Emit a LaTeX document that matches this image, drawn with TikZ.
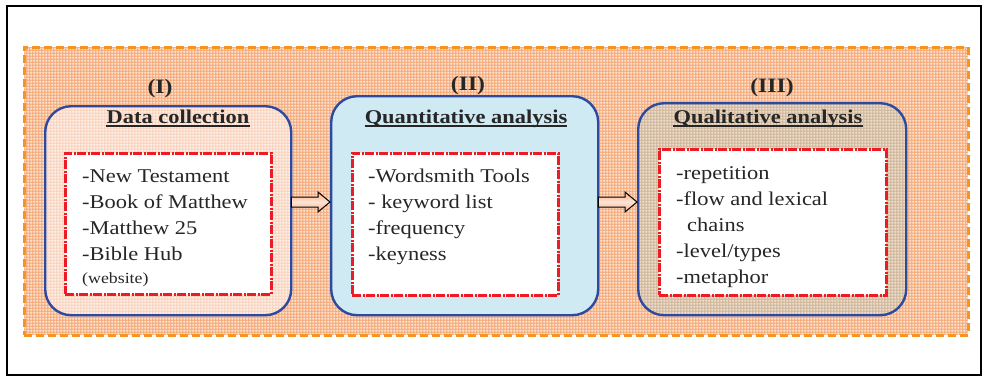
\documentclass[tikz,border=0pt]{standalone}
\usepackage{fontspec}
\setmainfont{Liberation Serif}[FakeStretch=1.15]
\usetikzlibrary{calc,patterns}
\definecolor{myblue}{HTML}{2E4A9E}
\definecolor{myred}{HTML}{ED1C24}
\definecolor{myorange}{HTML}{F7941D}
\definecolor{bgbase}{HTML}{F6AC7C}
\definecolor{pinkbase}{HTML}{FAD5C0}
\definecolor{bluefill}{HTML}{CFEAF3}
\definecolor{tanbase}{HTML}{D3B99C}
\definecolor{tangrid}{HTML}{F8F1E9}
\definecolor{textgray}{HTML}{262626}
\definecolor{arrowdark}{HTML}{F6B08A}
\definecolor{arrowlight}{HTML}{FDE3D3}
\pgfdeclarepatternformonly{finegrid}{\pgfqpoint{0pt}{0pt}}{\pgfqpoint{3pt}{3pt}}{\pgfqpoint{3pt}{3pt}}{%
 \pgfsetlinewidth{0.8pt}%
 \pgfpathmoveto{\pgfqpoint{0pt}{1.5pt}}\pgfpathlineto{\pgfqpoint{3pt}{1.5pt}}%
 \pgfpathmoveto{\pgfqpoint{1.5pt}{0pt}}\pgfpathlineto{\pgfqpoint{1.5pt}{3pt}}%
 \pgfusepath{stroke}}
\tikzset{
 phasebox/.style={draw=myblue, line width=2.4pt, rounded corners=26pt, anchor=north west, inner sep=0pt},
 listbox/.style={draw=myred, line width=2.8pt, dash pattern=on 9pt off 1.5pt on 2pt off 1.5pt, fill=white, anchor=north west, inner sep=0pt},
 item/.style={anchor=base west, inner sep=0pt, text=textgray, font=\fontsize{19.5}{26}\selectfont},
 smallitem/.style={anchor=base west, inner sep=0pt, text=textgray, font=\fontsize{15.5}{20}\selectfont},
 headtext/.style={anchor=base, inner sep=0pt, text=textgray, font=\bfseries\fontsize{19.5}{24}\selectfont},
 numtext/.style={anchor=base, inner sep=0pt, text=textgray, font=\bfseries\fontsize{20.5}{24}\selectfont},
 uline/.style={line width=1.3pt, textgray},
 blockarrow/.style={draw=black, line width=1pt, line join=miter, top color=arrowdark, bottom color=arrowdark, middle color=arrowlight}
}
\begin{document}
\begin{tikzpicture}[x=1pt,y=-1pt]
\useasboundingbox (0,0) rectangle (982,376);
% outer frame
\node[draw=black, line width=1.6pt, anchor=north west, inner sep=0pt, minimum width=974pt, minimum height=369pt] (frame) at (6,5) {};
% orange background
\node[draw=myorange, line width=2.5pt, dash pattern=on 8pt off 4pt, anchor=north west, inner sep=0pt,
      minimum width=944pt, minimum height=288pt, preaction={fill=bgbase}, pattern=finegrid, pattern color=white] (bg) at (23,46) {};
% phase boxes
\node[phasebox, minimum width=246pt, minimum height=209pt, preaction={fill=pinkbase}, pattern=finegrid, pattern color=white] (b1) at (44,105) {};
\node[phasebox, minimum width=267pt, minimum height=219pt, fill=bluefill] (b2) at (330,95) {};
\node[phasebox, minimum width=268pt, minimum height=212pt, preaction={fill=tanbase}, pattern=finegrid, pattern color=tangrid] (b3) at (637,102) {};
% list boxes
\node[listbox, minimum width=206pt, minimum height=141pt] (r1) at (64,152) {};
\node[listbox, minimum width=206pt, minimum height=142pt] (r2) at (351,152) {};
\node[listbox, minimum width=227pt, minimum height=146pt] (r3) at (658,148) {};
% labels
\node[numtext] (n1) at (160,93) {(I)};
\node[numtext] (n2) at (468,90) {(II)};
\node[numtext] (n3) at (772,92) {(III)};
\node[headtext] (h1) at (178,123) {Data collection};
\node[headtext] (h2) at (466,123) {Quantitative analysis};
\node[headtext] (h3) at (768,123) {Qualitative analysis};
\draw[uline] ([yshift=-3pt]h1.base west) -- ([yshift=-3pt]h1.base east);
\draw[uline] ([yshift=-3pt]h2.base west) -- ([yshift=-3pt]h2.base east);
\draw[uline] ([yshift=-3pt]h3.base west) -- ([yshift=-3pt]h3.base east);
% list I
\node[item] (i11) at (82,182) {-New Testament};
\node[item] (i12) at (82,208) {-Book of Matthew};
\node[item] (i13) at (82,234) {-Matthew 25};
\node[item] (i14) at (82,260) {-Bible Hub};
\node[smallitem] (i15) at (82,283) {(website)};
% list II
\node[item] (i21) at (368,182) {-Wordsmith Tools};
\node[item] (i22) at (368,208) {- keyword list};
\node[item] (i23) at (368,234) {-frequency};
\node[item] (i24) at (368,260) {-keyness};
% list III
\node[item] (i31) at (676,179) {-repetition};
\node[item] (i32) at (676,205) {-flow and lexical};
\node[item] (i33) at (687,231) {chains};
\node[item] (i34) at (676,257) {-level/types};
\node[item] (i35) at (676,283) {-metaphor};
% arrows
\coordinate (lvl) at (0,202);
\coordinate (s1) at (b1.east |- lvl);
\coordinate (e1) at (b2.west |- lvl);
\coordinate (s2) at (b2.east |- lvl);
\coordinate (e2) at (b3.west |- lvl);
\draw[blockarrow] ($(s1)+(-1,-5)$) -- ($(e1)+(-12,-5)$) -- ($(e1)+(-12,-10)$) -- (e1) -- ($(e1)+(-12,10)$) -- ($(e1)+(-12,5)$) -- ($(s1)+(-1,5)$) -- cycle;
\draw[blockarrow] ($(s2)+(-1,-5)$) -- ($(e2)+(-12,-5)$) -- ($(e2)+(-12,-10)$) -- (e2) -- ($(e2)+(-12,10)$) -- ($(e2)+(-12,5)$) -- ($(s2)+(-1,5)$) -- cycle;
\end{tikzpicture}
\end{document}
